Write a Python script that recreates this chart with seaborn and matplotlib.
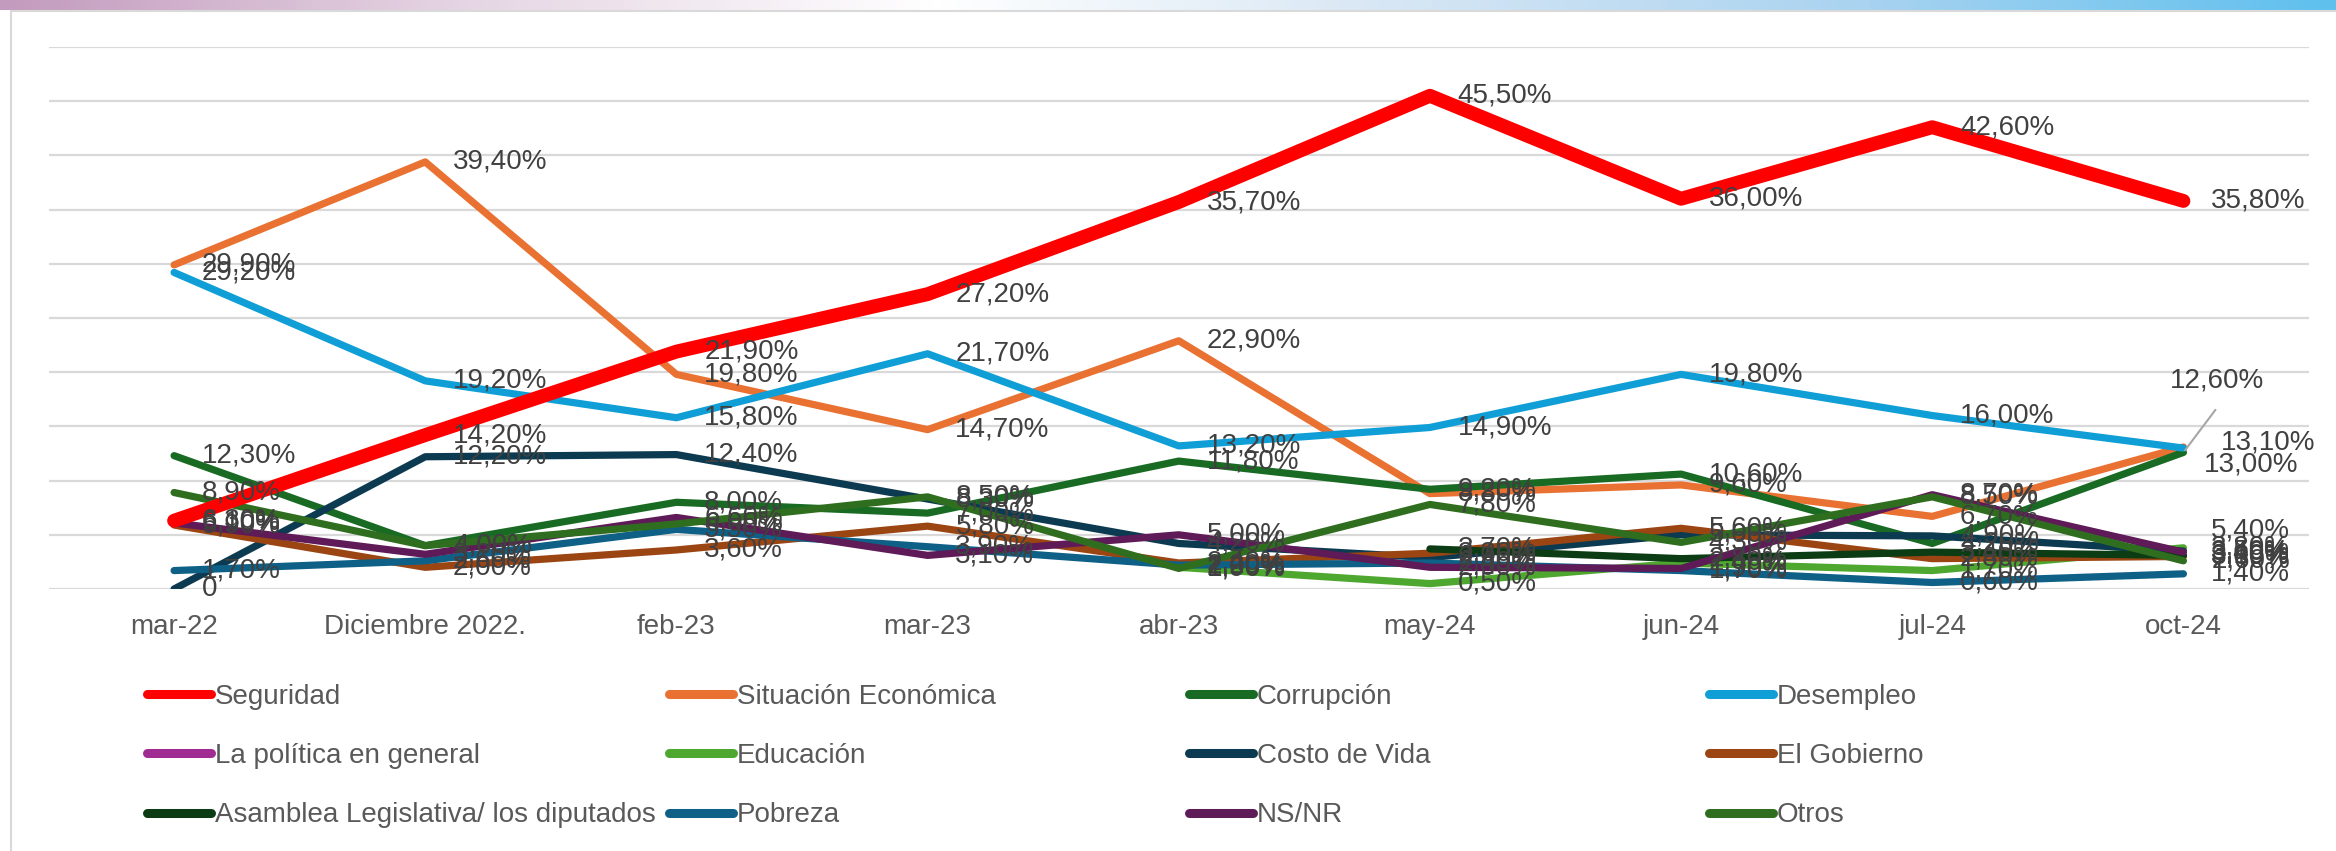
import numpy as np
import pandas as pd
import matplotlib
matplotlib.use("Agg")
import matplotlib.pyplot as plt
import matplotlib.colors as mcolors
from matplotlib.lines import Line2D
import seaborn as sns

nan = np.nan

# Categorías del eje X
categorias = ["mar-22", "Diciembre 2022.", "feb-23", "mar-23", "abr-23",
              "may-24", "jun-24", "jul-24", "oct-24"]

# Valores (%) por serie
seguridad = [6.3, 14.2, 21.9, 27.2, 35.7, 45.5, 36.0, 42.6, 35.8]
situacion_economica = [29.9, 39.4, 19.8, 14.7, 22.9, 8.8, 9.6, 6.7, 13.1]
corrupcion = [12.3, 4.0, 8.0, 7.0, 11.8, 9.2, 10.6, 4.2, 12.6]
desempleo = [29.2, 19.2, 15.8, 21.7, 13.2, 14.9, 19.8, 16.0, 13.0]
politica_general = [nan, nan, nan, nan, nan, nan, nan, nan, 5.4]
educacion = [nan, nan, nan, nan, 2.0, 0.5, 2.4, 1.7, 3.8]
costo_vida = [0.0, 12.2, 12.4, 8.3, 4.2, 2.9, 5.0, 4.9, 3.5]
gobierno = [5.9, 2.0, 3.6, 5.8, 2.4, 3.3, 5.6, 2.8, 3.0]
asamblea = [nan, nan, nan, nan, nan, 3.7, 2.8, 3.4, 3.1]
pobreza = [1.7, 2.6, 5.5, 3.9, 2.2, 2.4, 1.7, 0.6, 1.4]
ns_nr = [6.1, 3.2, 6.6, 3.1, 5.0, 2.0, 1.9, 8.7, 3.4]
otros = [8.9, 4.0, 6.0, 8.5, 1.9, 7.8, 4.3, 8.5, 2.6]

series = {
    "Seguridad": seguridad,
    "Situación Económica": situacion_economica,
    "Corrupción": corrupcion,
    "Desempleo": desempleo,
    "La política en general": politica_general,
    "Educación": educacion,
    "Costo de Vida": costo_vida,
    "El Gobierno": gobierno,
    "Asamblea Legislativa/ los diputados": asamblea,
    "Pobreza": pobreza,
    "NS/NR": ns_nr,
    "Otros": otros,
}

colores = {
    "Seguridad": "#FF0000",
    "Situación Económica": "#E97132",
    "Corrupción": "#196B24",
    "Desempleo": "#0F9ED5",
    "La política en general": "#A02B93",
    "Educación": "#4EA72E",
    "Costo de Vida": "#0C3A50",
    "El Gobierno": "#9B4513",
    "Asamblea Legislativa/ los diputados": "#0C3C14",
    "Pobreza": "#0E6087",
    "NS/NR": "#5F1A58",
    "Otros": "#306E1F",
}
anchos = {k: (10 if k == "Seguridad" else 5.2) for k in series}
orden = list(series.keys())

# desplazamientos especiales de algunas etiquetas (puntos)
desplazamientos = {
    ("Situación Económica", 8): (27, 3),
    ("Desempleo", 8): (15, -12),
}

# Tabla larga para seaborn
filas = []
for nombre, valores in series.items():
    for i, v in enumerate(valores):
        filas.append({"pos": i, "valor": v, "serie": nombre})
df = pd.DataFrame(filas).dropna()

sns.set_theme(style="white")
plt.rcParams["font.family"] = ["Liberation Sans", "DejaVu Sans"]

fig = plt.figure(figsize=(23.36, 8.51), dpi=100)
fig.patch.set_facecolor("white")

# Franja decorativa superior
franja = fig.add_axes([0, 1 - 10 / 851, 1, 10 / 851])
cmap = mcolors.LinearSegmentedColormap.from_list(
    "franja", ["#C39BBE", "#E6D6E4", "#FFFFFF", "#D6E6F4", "#A9D3F0", "#5FC0EE"])
franja.imshow(np.linspace(0, 1, 300)[None, :], aspect="auto", cmap=cmap)
franja.axis("off")

# Borde del área del gráfico
fig.add_artist(Line2D([11 / 2336, 11 / 2336], [0, 1 - 11 / 851],
                      transform=fig.transFigure, color="#D9D9D9", lw=1.5))
fig.add_artist(Line2D([11 / 2336, 1], [1 - 11 / 851, 1 - 11 / 851],
                      transform=fig.transFigure, color="#D9D9D9", lw=1.5))

ax = fig.add_axes([48.5 / 2336, 1 - 589 / 851, 2260.5 / 2336, 542 / 851])

sns.lineplot(data=df, x="pos", y="valor", hue="serie", hue_order=orden,
             palette=colores, size="serie", sizes=anchos, size_order=orden,
             legend=False, sort=False, ax=ax)

for line in ax.lines:
    line.set_solid_capstyle("round")
    line.set_solid_joinstyle("round")
    if mcolors.to_hex(line.get_color()).upper() == "#FF0000":
        line.set_zorder(4)
    else:
        line.set_zorder(3)

ax.set_xlim(-0.5, len(categorias) - 0.5)
ax.set_ylim(0, 50)
ax.set_yticks(np.arange(0, 51, 5))
ax.set_yticklabels([])
ax.yaxis.grid(True, color="#D9D9D9", lw=1.6, zorder=0)
ax.xaxis.grid(False)
ax.set_axisbelow(True)
ax.set_xticks(range(len(categorias)))
ax.set_xticklabels(categorias, fontsize=20, color="#595959")
ax.tick_params(axis="x", length=0, pad=18)
ax.tick_params(axis="y", length=0)
ax.set_xlabel("")
ax.set_ylabel("")
for s in ax.spines.values():
    s.set_visible(False)
ax.patch.set_alpha(0)


def etiqueta(v):
    if v == 0:
        return "0"
    return f"{v:.2f}".replace(".", ",") + "%"


# Etiquetas de datos
for nombre, valores in series.items():
    for i, v in enumerate(valores):
        if np.isnan(v):
            continue
        if nombre == "Corrupción" and i == len(valores) - 1:
            ax.annotate(etiqueta(v), xy=(i, v), xytext=(-10, 52),
                        textcoords="offset points", ha="left", va="center",
                        fontsize=20, color="#404040", zorder=6,
                        arrowprops=dict(arrowstyle="-", color="#A6A6A6", lw=1.5,
                                        relpos=(0.62, 0), shrinkA=12, shrinkB=2))
        else:
            ax.annotate(etiqueta(v), xy=(i, v),
                        xytext=desplazamientos.get((nombre, i), (20, 0)),
                        textcoords="offset points", ha="left", va="center",
                        fontsize=20, color="#404040", zorder=6)

# Leyenda en cuatro columnas con posiciones fijas
columnas_x = [147, 669, 1189, 1709]
for c, x0 in enumerate(columnas_x):
    nombres = orden[c::4]
    handles = [Line2D([0], [0], color=colores[n], lw=6.5, solid_capstyle="round")
               for n in nombres]
    leg = fig.legend(handles, nombres, loc="center left",
                     bbox_to_anchor=(x0 / 2336, 1 - 756 / 851),
                     frameon=False, fontsize=20, handlelength=2.3,
                     handletextpad=0.15, labelspacing=1.2,
                     borderpad=0, borderaxespad=0)
    for t in leg.get_texts():
        t.set_color("#595959")

fig.savefig("out.png", dpi=100, facecolor="white")
